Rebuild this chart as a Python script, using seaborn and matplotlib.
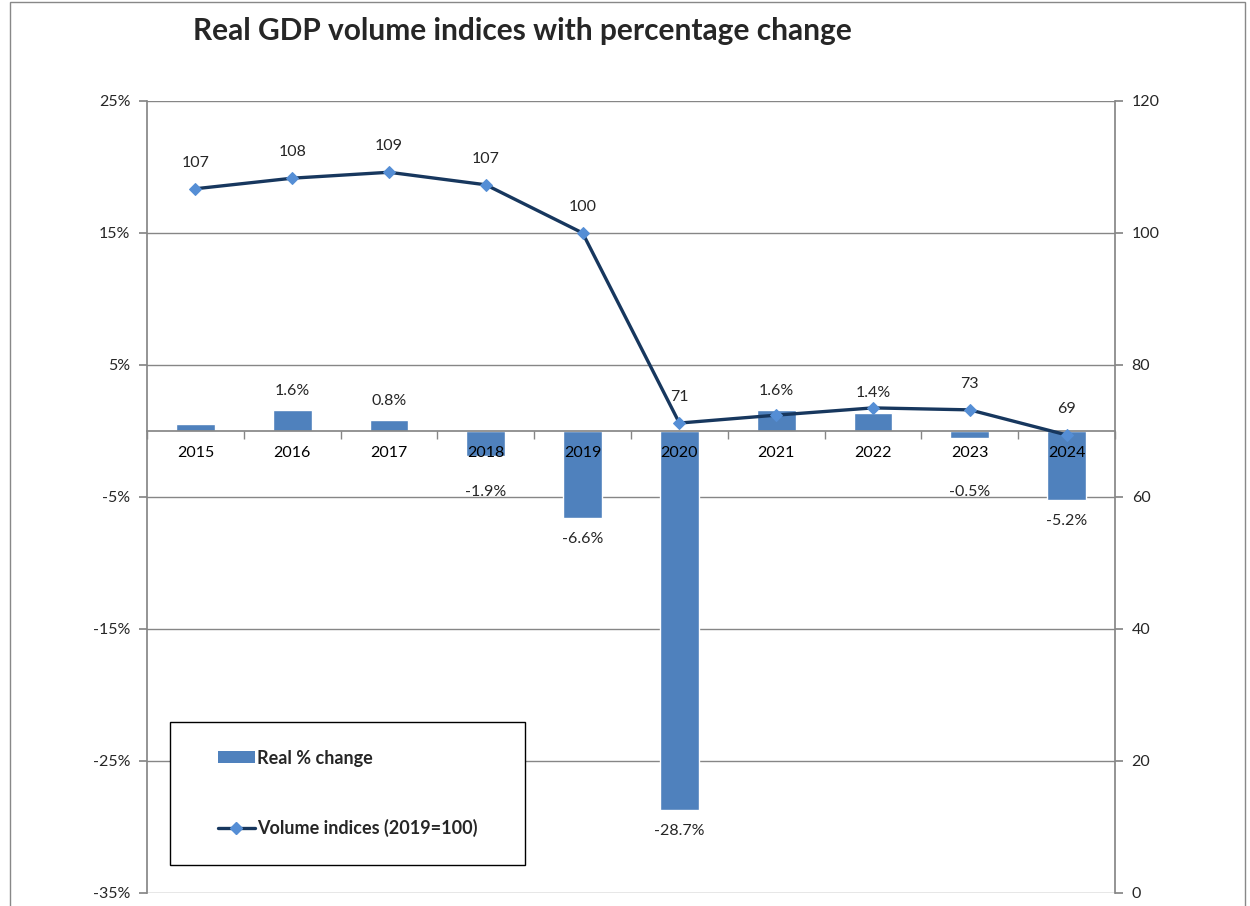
import numpy as np
import pandas as pd
import matplotlib
matplotlib.use('Agg')
import matplotlib.pyplot as plt
import seaborn as sns
from matplotlib.patches import Rectangle, Patch
from matplotlib.lines import Line2D
from matplotlib.ticker import FuncFormatter

# chart data
years = ['2015', '2016', '2017', '2018', '2019', '2020', '2021', '2022', '2023', '2024']
pct_change = [0.5, 1.6, 0.8, -1.9, -6.6, -28.7, 1.6, 1.4, -0.5, -5.2]
volume_index = [106.7, 108.3, 109.2, 107.3, 100.0, 71.2, 72.4, 73.5, 73.2, 69.4]
show_pct_label = [False, True, True, True, True, True, True, True, True, True]
show_index_label = [True, True, True, True, True, True, False, False, True, True]

df = pd.DataFrame({'year': years, 'pct': pct_change, 'index': volume_index})
df['pos'] = np.arange(len(df))

sns.set_theme(style='white')
plt.rcParams['font.family'] = ['Lato', 'DejaVu Sans']

bar_color = '#4F81BD'
line_color = '#17375E'
marker_color = '#558ED5'
grid_color = '#868686'

fig = plt.figure(figsize=(12.5, 9.06), dpi=100)
ax = fig.add_axes([0.1176, 0.01435, 0.7744, 0.8742])

sns.barplot(data=df, x='year', y='pct', color=bar_color, saturation=1,
            width=0.4, ax=ax, zorder=2)
ax.set_xlim(-0.5, len(years) - 0.5)
ax.set_ylim(-35, 25)
ax.set_yticks(np.arange(-35, 26, 10))
ax.yaxis.set_major_formatter(FuncFormatter(lambda v, p: f'{v:.0f}%'))
ax.yaxis.grid(True, color=grid_color, lw=1)
ax.set_axisbelow(True)
ax.xaxis.set_zorder(3)
ax.set_xlabel('')
ax.set_ylabel('')

# category axis sits on zero
ax.spines['bottom'].set_position(('data', 0))
ax.spines['bottom'].set_color(grid_color)
ax.spines['bottom'].set_zorder(3)
ax.spines['top'].set_visible(False)
ax.spines['right'].set_visible(False)
ax.spines['left'].set_color(grid_color)
ax.set_xticks(df['pos'])
ax.set_xticklabels(years)
ax.set_xticks(np.arange(-0.5, len(years), 1), minor=True)
ax.tick_params(axis='x', which='major', length=0, pad=11, labelsize=11.5, colors='black')
ax.tick_params(axis='x', which='minor', length=6, direction='out', color=grid_color, bottom=True)
ax.tick_params(axis='y', length=6, direction='out', color=grid_color, left=True,
               labelsize=11.5, pad=6)

for i, row in df.iterrows():
    if not show_pct_label[i]:
        continue
    v = row['pct']
    if v >= 0:
        y = v + 1.45
    else:
        y = min(v, -3.0) - 1.6
    ax.text(row['pos'], y, f'{v:.1f}%', ha='center', va='center', fontsize=11.5, zorder=5)

ax2 = ax.twinx()
sns.lineplot(data=df, x='pos', y='index', ax=ax2, color=line_color, lw=2.4,
             marker='D', markersize=6.5, markerfacecolor=marker_color,
             markeredgecolor=marker_color, zorder=4)
ax2.set_ylim(0, 120)
ax2.set_yticks(np.arange(0, 121, 20))
ax2.set_xlim(-0.5, len(years) - 0.5)
ax2.set_ylabel('')
ax2.set_xlabel('')
ax2.grid(False)
for s in ['top', 'bottom', 'left']:
    ax2.spines[s].set_visible(False)
ax2.spines['right'].set_color(grid_color)
ax2.tick_params(axis='y', length=6, direction='out', color=grid_color, right=True,
                labelsize=11.5, pad=6)

for i, row in df.iterrows():
    if show_index_label[i]:
        ax2.annotate(f'{row["index"]:.0f}', (row['pos'], row['index']),
                     xytext=(0, 26), textcoords='offset pixels',
                     ha='center', va='center', fontsize=11.5)

# legend box
box = Rectangle((0.0238, 0.0354), 0.367, 0.181, transform=ax2.transAxes,
                facecolor='white', edgecolor='black', lw=1, zorder=10)
ax2.add_patch(box)
handles = [Patch(facecolor=bar_color, edgecolor='none'),
           Line2D([], [], color=line_color, lw=2.4, marker='D', markersize=6.5,
                  markerfacecolor=marker_color, markeredgecolor=marker_color)]
leg = ax2.legend(handles, ['Real % change', 'Volume indices (2019=100)'],
                 loc='center', bbox_to_anchor=(0.0238 + 0.367 / 2, 0.0354 + 0.181 / 2),
                 frameon=False, labelspacing=2.9, handlelength=2.05, handletextpad=0.15,
                 handleheight=0.6, prop={'weight': 'bold', 'size': 13})
leg.set_zorder(11)

fig.text(0.418, 0.966, 'Real GDP volume indices with percentage change',
         ha='center', va='center', fontsize=21.5, fontweight='bold')

# outer chart border
fig.patches.append(Rectangle((10 / 1250, -0.02), 1235 / 1250, 1.02 - 2 / 906,
                             transform=fig.transFigure, fill=False,
                             edgecolor='#888888', lw=1))

fig.savefig('out.png', dpi=100)
